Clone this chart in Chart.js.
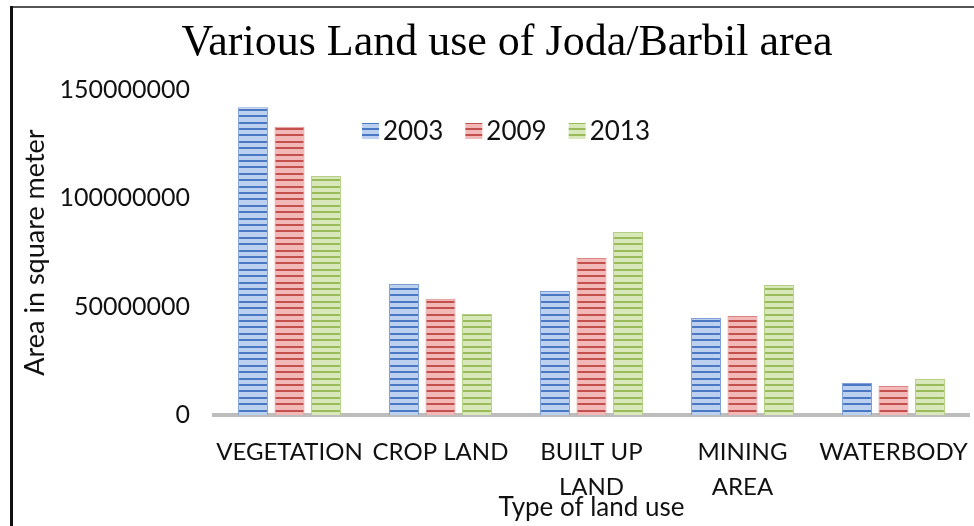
<!DOCTYPE html>
<html>
<head>
<meta charset="utf-8">
<script src="https://cdn.jsdelivr.net/npm/chart.js@4/dist/chart.umd.min.js"></script>
<style>
  html, body { margin: 0; padding: 0; background: #fff; }
  #wrap { width: 974px; height: 526px; position: relative; }
</style>
</head>
<body>
<div id="wrap"><canvas id="chartLand"></canvas></div>
<script>
// data
const categorias = ['VEGETATION', 'CROP LAND', ['BUILT UP', 'LAND'], ['MINING', 'AREA'], 'WATERBODY'];
const anos = ['2003', '2009', '2013'];
const valores2003 = [142000000, 60500000, 57200000, 44800000, 14800000];
const valores2009 = [133000000, 53600000, 72500000, 45700000, 13400000];
const valores2013 = [110300000, 46600000, 84500000, 60000000, 16600000];
const yMax = 150000000;
const yPasso = 50000000;
const titulo = 'Various Land use of Joda/Barbil area';

const FONTE = 'Lato';

// listras horizontais tipo Excel
function listrado(claro, escuro) {
  const c = document.createElement('canvas');
  c.width = 4; c.height = 32;
  const g = c.getContext('2d');
  g.fillStyle = claro;
  g.fillRect(0, 0, 4, 32);
  g.fillStyle = escuro;
  for (let i = 0; i < 5; i++) g.fillRect(0, Math.round(i * 6.4), 4, 2);
  return g.createPattern(c, 'repeat');
}

const cores = [
  { claro: '#bcd0ef', escuro: '#4a78c2', borda: '#7d9fd6' },
  { claro: '#f2b8b7', escuro: '#c4504e', borda: '#d98583' },
  { claro: '#d8e8bb', escuro: '#9abb5a', borda: '#b5cf86' }
];
const padroes = cores.map(c => listrado(c.claro, c.escuro));

// moldura + titulo da imagem original
const molduraPlugin = {
  id: 'moldura',
  afterDraw(chart) {
    const ctx = chart.ctx;
    ctx.save();
    ctx.fillStyle = '#555';
    ctx.fillRect(10, 6, 964, 2);
    ctx.fillStyle = '#111';
    ctx.fillRect(10, 6, 3, 520);
    ctx.fillStyle = '#000';
    ctx.font = "44px 'Liberation Serif'";
    ctx.textAlign = 'center';
    ctx.textBaseline = 'middle';
    ctx.fillText(titulo, 507, 43);
    ctx.restore();
  }
};

// legenda dentro da area do grafico
const legendaPlugin = {
  id: 'legendaInterna',
  afterDraw(chart) {
    const ctx = chart.ctx;
    ctx.save();
    ctx.font = `26px ${FONTE}`;
    ctx.textBaseline = 'middle';
    let x = 362;
    const y = 131;
    chart.data.datasets.forEach((ds, i) => {
      ctx.fillStyle = padroes[i];
      ctx.fillRect(x, y - 8, 17, 16);
      ctx.fillStyle = '#111';
      ctx.fillText(ds.label, x + 21, y + 1);
      x += 21 + ctx.measureText(ds.label).width + 22;
    });
    ctx.restore();
  }
};

const series = [valores2003, valores2009, valores2013];

new Chart(document.getElementById('chartLand').getContext('2d'), {
  type: 'bar',
  data: {
    labels: categorias,
    datasets: anos.map((ano, i) => ({
      label: ano,
      data: series[i],
      backgroundColor: padroes[i],
      borderColor: cores[i].borda,
      borderWidth: 1,
      categoryPercentage: 0.725,
      barPercentage: 0.82
    }))
  },
  options: {
    responsive: true,
    maintainAspectRatio: false,
    animation: false,
    layout: { padding: { left: 19, right: 5, top: 90, bottom: 0 } },
    plugins: {
      legend: { display: false },
      tooltip: { enabled: false },
      title: { display: false }
    },
    scales: {
      x: {
        grid: { display: false, drawTicks: false, tickLength: 0 },
        border: { display: true, color: '#bdbdbd', width: 4 },
        ticks: {
          color: '#111',
          font: { family: FONTE, size: 24, lineHeight: 1.45 },
          padding: 20,
          autoSkip: false,
          maxRotation: 0,
          minRotation: 0
        },
        title: {
          display: true,
          text: 'Type of land use',
          color: '#111',
          font: { family: FONTE, size: 26 },
          padding: { top: 0, bottom: 3 }
        },
        afterFit: s => { s.height = 111; s.paddingLeft = 0; s.paddingRight = 0; }
      },
      y: {
        min: 0,
        max: yMax,
        grid: { display: false, drawTicks: false, tickLength: 0 },
        border: { display: false },
        ticks: {
          stepSize: yPasso,
          color: '#111',
          font: { family: FONTE, size: 25 },
          padding: 24,
          callback: v => String(v)
        },
        title: {
          display: true,
          text: 'Area in square meter',
          color: '#111',
          font: { family: FONTE, size: 27 },
          padding: { top: 0, bottom: 0 }
        },
        afterFit: s => { s.width = 195; }
      }
    }
  },
  plugins: [molduraPlugin, legendaPlugin]
});
</script>
</body>
</html>
